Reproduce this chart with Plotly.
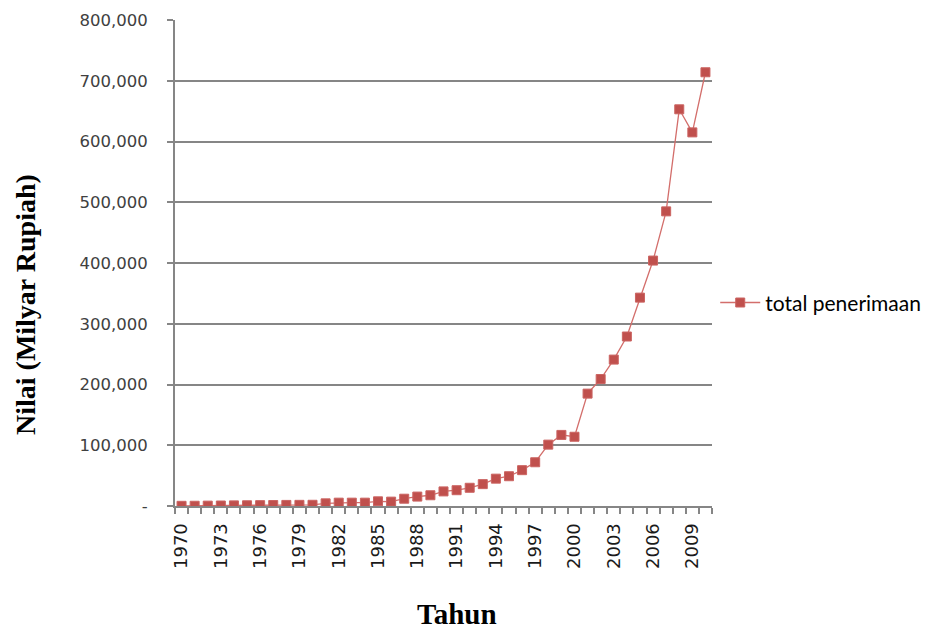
import plotly.graph_objects as go

years = list(range(1970, 2011))
total_penerimaan = [
    300, 400, 600, 800, 1000, 1200, 1400, 1600, 1800, 1900, 2000,
    4400, 5500, 5500, 5500, 7700, 7200, 12000, 15500, 17700,
    24000, 26000, 30000, 36000, 45000, 49000, 59000, 72000, 101000, 117000,
    114000, 185000, 209000, 241000, 279000, 343000, 404000, 485000, 653000, 615000,
    714000,
]
x_tick_years = list(range(1970, 2011, 3))
y_tick_vals = [0, 100000, 200000, 300000, 400000, 500000, 600000, 700000, 800000]
y_tick_text = ["-", "100,000", "200,000", "300,000", "400,000", "500,000",
               "600,000", "700,000", "800,000"]

GRID = "#868686"
RED = "#C0504D"

# The page body has an 8px margin, so the figure is drawn 8px in from the corner.
OFF = 8
PL, PT, PW, PH = 175, 20, 537, 486  # plot area in window pixels

fig = go.Figure()
fig.add_trace(go.Scatter(
    x=years, y=total_penerimaan, mode="lines+markers", name="total penerimaan",
    line=dict(color="#D36E6B", width=1.3),
    marker=dict(symbol="square", size=9, color=RED, line=dict(color="#CB6462", width=1)),
))

W, H = 933 - OFF, 633 - OFF
fig.update_layout(
    width=W, height=H,
    margin=dict(l=PL - OFF, r=W - (PL - OFF) - PW, t=PT - OFF, b=H - (PT - OFF) - PH, autoexpand=False),
    paper_bgcolor="white", plot_bgcolor="white",
    showlegend=True,
    legend=dict(x=1.006, xanchor="left", y=0.418, yanchor="middle",
                font=dict(family="Lato, Liberation Sans", size=21, color="#000000"),
                bgcolor="rgba(0,0,0,0)", itemwidth=40),
    xaxis=dict(
        range=[1969.5, 2010.5], showgrid=False, zeroline=False,
        showline=True, linecolor=GRID, linewidth=2,
        tickmode="array", tickvals=x_tick_years, ticktext=[str(y) for y in x_tick_years],
        tickangle=-90, ticks="", ticklabelstandoff=8,
        tickfont=dict(family="DejaVu Sans", size=18, color="#1a1a1a"),
        minor=dict(tick0=1969.5, dtick=1, ticks="outside", ticklen=6, tickcolor=GRID, tickwidth=1.5, showgrid=False),
    ),
    yaxis=dict(
        range=[0, 800000], showgrid=True, gridcolor=GRID, gridwidth=2,
        zeroline=False, showline=True, linecolor=GRID, linewidth=2,
        tickmode="array", tickvals=y_tick_vals, ticktext=y_tick_text,
        ticks="outside", ticklen=6, tickcolor=GRID, tickwidth=1.5,
        ticklabelstandoff=16,
        tickfont=dict(family="DejaVu Sans", size=16.5, color="#404040"),
    ),
    annotations=[
        dict(text="<b>Nilai (Milyar Rupiah)</b>", xref="paper", yref="paper",
             x=(26 - PL) / PW, y=(PT + PH - 305) / PH, textangle=-90, showarrow=False,
             xanchor="center", yanchor="middle",
             font=dict(family="Liberation Serif", size=28, color="#000000")),
        dict(text="<b>Tahun</b>", xref="paper", yref="paper",
             x=(457 - PL) / PW, y=(PT + PH - 614) / PH, showarrow=False,
             xanchor="center", yanchor="middle",
             font=dict(family="Liberation Serif", size=29, color="#000000")),
    ],
)

fig.write_html("out.html")
